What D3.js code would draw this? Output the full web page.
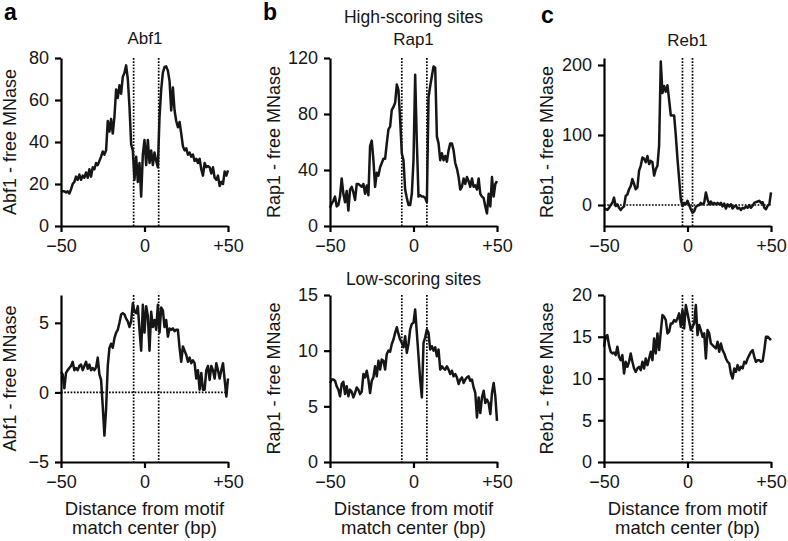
<!DOCTYPE html>
<html><head><meta charset="utf-8">
<script src="https://cdn.jsdelivr.net/npm/d3@7"></script>
<style>
body{margin:0;background:#fff;}
svg{font-family:"Liberation Sans",Arial,Helvetica,sans-serif;}
</style></head><body>
<svg id="chart" width="788" height="541"></svg>
<script>
// ---------- data ----------
const distance = d3.range(-50, 51); // bp from motif match center
const xTicks = [-50, 0, 50];
const xTickLabels = ["\u221250", "0", "+50"];

const abf1High = [17,16.5,16.5,16,16.5,15.5,17.5,20,21,23.5,22,24.5,22,24,23,25.5,23,27,23.5,28,27,30,29,31,33,35.5,34,36,50,45,51,44,52,65,61,67,63,71,73,76.5,70,57,39,36,22,33,21,30,14,34,41,29,41,30,36,29,35,31,28,52,65,73,75.7,76,74,69,55,66,55,50,47,49.5,44,38,36,37,34,35,33,34,31,32,30,32,27,24,30,28,28.5,28,25,28,23,22,24,19,21,20,26,24,26.5];
const rap1High = [13,16,18,21,14,15,21,34,23,17,25,11,26,28,24,18.6,30,30,29,28,30,23,29,22,57,61,47,28,38,36,42,45,48,48,59,69,71,83,85,88,101,97,76,52,47,26,20,15,15,23,47,108,60,21,22,21,21,20,17,92,100,107,114,113,64,59,47,52,47,50,46,54,59,59,54,45,41,35,26,28,34,30,35,32,28,34,28,29,26,34,23,21,20,14,9,23,14,35,21,30,32];
const reb1High = [-5,-6,-7,-4,0,3,10.5,-1.5,1,-4,-7,-4,-2,13,15,22.5,27,37,30,22.5,25,49,56,68,66,61,70,58.5,63,61,42,51,56,85,205,160,170,162,171,150,128,128,128,99,66,37,8,-1.5,3,1,6,0,-6,-11,-9,-2.5,-1,0,3,1,3,18,8,1,5,1,3,1,3,1,3,-2,2,-5,1,-2,1,-5,-2,-1,-5,-4,-7,-4,-5,-2,-4,0,-4,-1,3,4,5,6,3,4,-4,-6,-1,1,18];
const abf1Low = [1.5,1.3,0.3,1.4,1.6,1.75,1.9,2.2,1.6,1.75,1.6,1.9,2.0,1.6,1.9,2.2,1.7,2.0,1.6,1.75,1.6,1.8,2.5,1.3,0.9,-1,-3.1,-1.2,1.9,3.2,3.5,3.2,3.9,4.3,4.5,5.0,5.6,5.7,5.6,5.3,5.1,4.7,5.1,6.4,5.8,5.7,6.2,4.5,3.0,6.3,4.3,6.2,5.5,3.0,5.8,4.7,5.2,4.5,6.3,4.3,6.1,5.9,4.7,5.2,4.0,4.6,4.5,4.6,4.4,4.5,4.5,3.2,2.2,3.3,3.0,2.7,2.2,2.5,2.1,2.3,2.1,1.0,1.6,0.2,1.4,0.2,0.2,1.6,1.9,0.9,1.9,1.6,1.0,2.1,1.6,1.0,1.6,2.1,0.9,-0.3,1.0];
const rap1Low = [7.1,7.4,7.4,7.3,6.8,6.5,5.9,7.0,7.2,6.1,6.8,5.9,6.5,6.3,5.8,6.2,6.7,6.5,6.1,6.3,7.9,7.6,8.2,7.4,6.2,7.3,7.6,8.6,7.7,9.1,8.3,9.2,9.1,8.3,9.7,10.0,9.9,10.6,11.0,11.6,12.1,11.5,11.0,10.7,10.3,11.3,9.8,10.6,11.9,12.4,12.5,13.7,11.6,9.5,7.4,5.8,10.7,11.2,11.9,11.6,10.1,10.4,10.0,10.3,9.5,10.1,8.3,8.6,8.4,8.3,8.6,8.3,7.9,8.2,7.7,7.9,7.6,7.0,7.4,7.6,7.1,7.4,7.6,7.7,7.3,7.4,6.7,6.2,4.0,5.8,4.4,5.8,6.4,5.3,5.6,5.3,4.3,6.2,7.1,5.9,3.7];
const reb1Low = [13.8,15.0,15.2,14.0,13.2,13.0,13.1,12.8,13.8,12.6,12.2,12.8,10.6,12.0,11.4,12.0,13.0,12.0,11.2,10.8,11.2,11.4,11.0,12.0,11.2,12.4,11.6,12.4,13.2,12.2,14.8,13.0,15.4,13.4,15.6,17.6,17.4,17.0,15.4,15.6,16.6,16.6,17.0,16.8,17.2,17.8,16.2,18.2,16.0,18.8,17.8,16.8,15.8,16.2,16.6,18.8,15.2,16.4,15.8,15.0,15.4,12.4,15.8,15.4,14.2,14.0,13.8,13.6,14.4,13.2,14.2,13.4,13.0,12.4,12.0,11.8,10.6,10.0,11.2,10.8,11.6,11.0,11.4,11.2,12.0,11.8,12.4,12.8,13.2,13.4,12.6,12.0,12.2,12.2,12.0,12.1,13.4,15.0,15.0,14.8,14.6];

const abf1HighTicks = [0,20,40,60,80];
const rap1HighTicks = [0,40,80,120];
const reb1HighTicks = [0,100,200];
const abf1LowTicks = [-5,0,5];
const rap1LowTicks = [0,5,10,15];
const reb1LowTicks = [0,5,10,15,20];

const abf1Motif = [-6.5, 8.5];
const rap1Motif = [-7, 8];
const reb1Motif = [-3, 3];

const yLabels = ["Abf1 - free MNase", "Rap1 - free MNase", "Reb1 - free MNase"];
const panelLetters = ["a", "b", "c"];
const factorNames = ["Abf1", "Rap1", "Reb1"];
const siteGroups = ["High-scoring sites", "Low-scoring sites"];
const xTitle = ["Distance from motif", "match center (bp)"];

// ---------- layout ----------
const svg = d3.select("#chart");
const colX = [61, 330, 604];
const plotW = 167;
const rowY = [[58, 226], [295, 462]];

const panels = [
  {col:0,row:0,values:abf1High,domain:[0,80],ticks:abf1HighTicks,motif:abf1Motif,zero:false},
  {col:1,row:0,values:rap1High,domain:[0,120],ticks:rap1HighTicks,motif:rap1Motif,zero:false},
  {col:2,row:0,values:reb1High,domain:[-30,210],ticks:reb1HighTicks,motif:reb1Motif,zero:true},
  {col:0,row:1,values:abf1Low,domain:[-5,7],ticks:abf1LowTicks,motif:abf1Motif,zero:true},
  {col:1,row:1,values:rap1Low,domain:[0,15],ticks:rap1LowTicks,motif:rap1Motif,zero:false},
  {col:2,row:1,values:reb1Low,domain:[0,20],ticks:reb1LowTicks,motif:reb1Motif,zero:false}
];

const fmt = d => d < 0 ? "\u2212" + Math.abs(d) : String(d);
const TICK_FS = 18;
const LAB_FS = 18.5;
const TITLE_FS = 17.5;
const NAME_FS = 17;
const INK = "#161616";

panels.forEach(p => {
  const x0 = colX[p.col];
  const [yTop, yBot] = rowY[p.row];
  const x = d3.scaleLinear().domain([-50, 50]).range([x0, x0 + plotW]);
  const y = d3.scaleLinear().domain(p.domain).range([yBot, yTop]);
  const g = svg.append("g");

  // dotted guides
  p.motif.forEach(m => {
    g.append("line").attr("x1", x(m)).attr("x2", x(m)).attr("y1", yTop).attr("y2", yBot)
      .attr("stroke", "#000").attr("stroke-width", 1.7).attr("stroke-dasharray", "1.7,1.5");
  });
  if (p.zero) {
    g.append("line").attr("x1", x(-50)).attr("x2", x(50)).attr("y1", y(0)).attr("y2", y(0))
      .attr("stroke", "#000").attr("stroke-width", 1.7).attr("stroke-dasharray", "1.7,1.5");
  }

  // data line
  const line = d3.line().x((d, i) => x(distance[i])).y(d => y(d));
  g.append("path").datum(p.values).attr("d", line)
    .attr("fill", "none").attr("stroke", INK).attr("stroke-width", 2.5)
    .attr("stroke-linejoin", "round");

  // axes
  const xAxis = d3.axisBottom(x).tickValues(xTicks).tickFormat((d, i) => xTickLabels[i])
    .tickSize(6).tickSizeOuter(0).tickPadding(7);
  const gx = g.append("g").attr("transform", `translate(0,${yBot})`).call(xAxis);
  const yAxis = d3.axisLeft(y).tickValues(p.ticks).tickFormat(fmt)
    .tickSize(6).tickSizeOuter(0).tickPadding(6);
  const gy = g.append("g").attr("transform", `translate(${x0},0)`).call(yAxis);
  [gx, gy].forEach(a => {
    a.selectAll("path.domain").attr("stroke", "#000").attr("stroke-width", 2.2);
    a.selectAll(".tick line").attr("stroke", "#000").attr("stroke-width", 2.2);
    a.selectAll("text").attr("font-size", TICK_FS).attr("fill", INK)
      .attr("font-family", "Liberation Sans, Arial, sans-serif");
  });

  // y label
  const labX = [15.5, 280, 553][p.col];
  g.append("text").attr("transform", `translate(${labX},${(yTop + yBot) / 2}) rotate(-90)`)
    .attr("text-anchor", "middle").attr("font-size", TICK_FS).attr("fill", INK)
    .text(yLabels[p.col]);

  // x title for bottom row
  if (p.row === 1) {
    const cx = x(0);
    g.append("text").attr("x", cx).attr("y", 515).attr("text-anchor", "middle")
      .attr("font-size", LAB_FS).attr("fill", INK).text(xTitle[0]);
    g.append("text").attr("x", cx).attr("y", 534).attr("text-anchor", "middle")
      .attr("font-size", LAB_FS).attr("fill", INK).text(xTitle[1]);
  }
});

// titles
svg.append("text").attr("x", 145).attr("y", 44).attr("text-anchor", "middle")
  .attr("font-size", NAME_FS).attr("fill", INK).text(factorNames[0]);
svg.append("text").attr("x", 413.5).attr("y", 23).attr("text-anchor", "middle")
  .attr("font-size", TITLE_FS).attr("fill", INK).text(siteGroups[0]);
svg.append("text").attr("x", 413.5).attr("y", 45).attr("text-anchor", "middle")
  .attr("font-size", NAME_FS).attr("fill", INK).text(factorNames[1]);
svg.append("text").attr("x", 687.5).attr("y", 46).attr("text-anchor", "middle")
  .attr("font-size", NAME_FS).attr("fill", INK).text(factorNames[2]);
svg.append("text").attr("x", 413.5).attr("y", 285).attr("text-anchor", "middle")
  .attr("font-size", TITLE_FS).attr("fill", INK).text(siteGroups[1]);

// panel letters
[[4, 20], [263, 20], [541, 23]].forEach((pos, i) => {
  svg.append("text").attr("x", pos[0]).attr("y", pos[1]).attr("font-size", 23)
    .attr("font-weight", "bold").attr("fill", "#000").text(panelLetters[i]);
});
</script>
</body></html>
